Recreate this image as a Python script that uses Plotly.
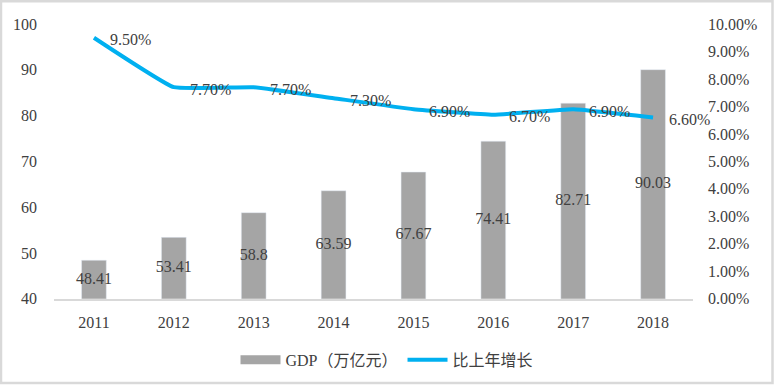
import plotly.graph_objects as go

years = ["2011", "2012", "2013", "2014", "2015", "2016", "2017", "2018"]
gdp = [48.41, 53.41, 58.8, 63.59, 67.67, 74.41, 82.71, 90.03]
gdp_labels = ["48.41", "53.41", "58.8", "63.59", "67.67", "74.41", "82.71", "90.03"]
growth = [0.095, 0.077, 0.077, 0.073, 0.069, 0.067, 0.069, 0.066]
growth_labels = ["9.50%", "7.70%", "7.70%", "7.30%", "6.90%", "6.70%", "6.90%", "6.60%"]
gdp_name = "GDP（万亿元）"
growth_name = "比上年增长"

FONT = "Liberation Serif, 'Times New Roman', 'Noto Sans CJK SC', serif"
TXT = "#404040"
BAR = "#A5A5A5"
LINE = "#00B0F0"
Y_MIN = 40

fig = go.Figure()

fig.add_trace(go.Bar(x=years, y=gdp, name=gdp_name, marker_color=BAR,
                     showlegend=False, yaxis="y"))
# bar labels, centred in the visible part of each bar
fig.add_trace(go.Scatter(x=years, y=[(Y_MIN + v) / 2 for v in gdp], mode="text",
                         text=gdp_labels, textfont=dict(family=FONT, size=16, color=TXT),
                         showlegend=False, hoverinfo="skip", yaxis="y"))
fig.add_trace(go.Scatter(x=years, y=growth, name=growth_name, mode="lines",
                         line=dict(color=LINE, width=4, shape="spline", smoothing=0.3),
                         showlegend=False, yaxis="y2"))

# legend entries
fig.add_trace(go.Scatter(x=[years[0]], y=[None], mode="lines", name=gdp_name,
                         line=dict(color=BAR, width=9), yaxis="y"))
fig.add_trace(go.Scatter(x=[years[0]], y=[None], mode="lines", name=growth_name,
                         line=dict(color=LINE, width=4), yaxis="y2"))

for i, (v, lab) in enumerate(zip(growth, growth_labels)):
    fig.add_annotation(x=i, y=v, xref="x", yref="y2", text=lab, showarrow=False,
                       xanchor="left", xshift=14, yshift=-2,
                       font=dict(family=FONT, size=16, color=TXT))

fig.update_layout(
    width=774, height=390,
    margin=dict(l=54, r=81, t=24, b=87),
    paper_bgcolor="white", plot_bgcolor="white",
    font=dict(family=FONT, size=16, color=TXT),
    bargap=0.69,
    xaxis=dict(type="category", categoryorder="array", categoryarray=years,
               range=[-0.5, len(years) - 0.5], showgrid=False, showline=True,
               linecolor="#D9D9D9", linewidth=2, ticks="", ticklabelstandoff=8,
               zeroline=False),
    yaxis=dict(range=[40, 100], dtick=10, showgrid=False, zeroline=False,
               showline=False, ticks="", ticklabelstandoff=16),
    yaxis2=dict(range=[0, 0.10], dtick=0.01, tickformat=".2%", overlaying="y",
                side="right", showgrid=False, zeroline=False, showline=False,
                ticks="", ticklabelstandoff=14),
    legend=dict(orientation="h", xref="container", yref="container", x=0.5, y=0.077,
                xanchor="center", yanchor="middle", font=dict(family=FONT, size=16, color=TXT),
                itemwidth=40, tracegroupgap=0),
    shapes=[dict(type="rect", xref="paper", yref="paper",
                 x0=(1 - 54) / 639, x1=(772.5 - 54) / 639,
                 y0=(303 - 388.5) / 279, y1=(303 - 1) / 279,
                 line=dict(color="#D9D9D9", width=2.5), fillcolor="rgba(0,0,0,0)")],
)

fig.write_html("out.html", config={"displayModeBar": False},
               post_script="document.body.style.margin='0';")
